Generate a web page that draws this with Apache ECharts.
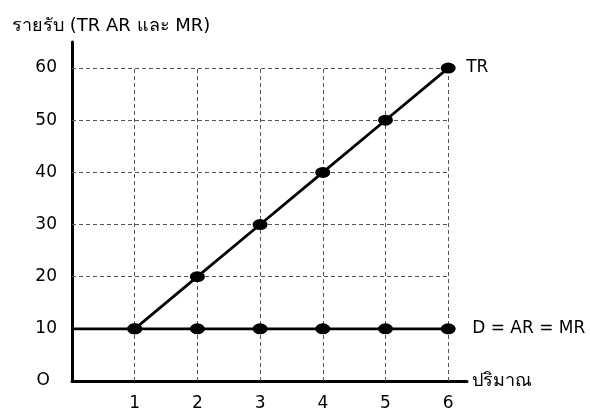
<!DOCTYPE html>
<html>
<head>
<meta charset="utf-8">
<script src="https://cdn.jsdelivr.net/npm/echarts@6/dist/echarts.min.js"></script>
<style>
  html, body { margin: 0; padding: 0; background: #fff; }
  #chart { width: 590px; height: 414px; }
</style>
</head>
<body>
<div id="chart"></div>
<script>
// Quantity sold and the revenue curves of a price-taking firm
const quantities = [1, 2, 3, 4, 5, 6];
const trValues = [10, 20, 30, 40, 50, 60];   // total revenue
const mrValues = [10, 10, 10, 10, 10, 10];   // D = AR = MR (constant price)
const yTicks = [10, 20, 30, 40, 50, 60];

const FONT = 'DejaVu Sans, Noto Sans, sans-serif';
const gridTop = yTicks[yTicks.length - 1];
const gridRight = quantities[quantities.length - 1];

// dashed guide lines: horizontal at each tick, vertical at each quantity
const guideLines = [];
yTicks.forEach(function (v) {
  guideLines.push([{ coord: [0, v] }, { coord: [gridRight, v] }]);
});
quantities.forEach(function (q) {
  guideLines.push([{ coord: [q, 0] }, { coord: [q, gridTop] }]);
});

const trData = quantities.map(function (q, i) { return [q, trValues[i]]; });
const mrData = [{ value: [0, mrValues[0]], symbolSize: 0 }].concat(
  quantities.map(function (q, i) { return [q, mrValues[i]]; })
);

const dotStyle = { color: '#000', borderWidth: 0, opacity: 1 };

const chart = echarts.init(document.getElementById('chart'), null, { renderer: 'canvas' });
chart.setOption({
  animation: false,
  backgroundColor: '#ffffff',
  textStyle: { fontFamily: FONT },
  title: {
    text: 'รายรับ (TR AR และ MR)',
    left: 7,
    top: 12,
    textStyle: { fontFamily: FONT, fontSize: 18, fontWeight: 'normal', color: '#000' }
  },
  grid: { left: 72, right: 123, top: 42, bottom: 33, containLabel: false },
  xAxis: {
    type: 'value',
    min: 0,
    max: 6.3,
    interval: 1,
    name: 'ปริมาณ',
    nameLocation: 'end',
    nameGap: 5,
    nameTextStyle: { fontFamily: FONT, fontSize: 18, color: '#000', verticalAlign: 'middle' },
    axisLine: { show: true, onZero: false, lineStyle: { color: '#000', width: 3 } },
    axisTick: { show: false },
    splitLine: { show: false },
    axisLabel: {
      margin: 14,
      fontFamily: FONT,
      fontSize: 17,
      color: '#000',
      formatter: function (v) {
        return (v > 0 && Number.isInteger(v)) ? String(v) : '';
      }
    }
  },
  yAxis: {
    type: 'value',
    min: 0,
    max: 65,
    interval: 10,
    axisLine: { show: true, onZero: false, lineStyle: { color: '#000', width: 3 } },
    axisTick: { show: false },
    splitLine: { show: false },
    axisLabel: {
      margin: 15,
      fontFamily: FONT,
      fontSize: 17,
      color: '#000',
      formatter: function (v) {
        if (v === 0) return '{o|O}';
        return yTicks.indexOf(v) >= 0 ? String(v) : '';
      },
      rich: { o: { fontFamily: FONT, fontSize: 17, color: '#000', padding: [0, 7, 0, 0] } }
    }
  },
  series: [
    {
      name: 'guides',
      type: 'line',
      data: [],
      silent: true,
      z: 1,
      markLine: {
        silent: true,
        symbol: 'none',
        z: 1,
        label: { show: false },
        emphasis: { disabled: true },
        lineStyle: { color: '#555', width: 1, type: [4, 3] },
        data: guideLines
      }
    },
    {
      name: 'D = AR = MR',
      type: 'line',
      data: mrData,
      symbol: 'circle',
      symbolSize: [15, 11],
      showAllSymbol: true,
      itemStyle: dotStyle,
      lineStyle: { color: '#000', width: 2.8 },
      emphasis: { disabled: true },
      z: 3,
      endLabel: {
        show: true,
        formatter: 'D = AR = MR',
        distance: 24,
        fontFamily: FONT,
        fontSize: 17,
        color: '#000'
      }
    },
    {
      name: 'TR',
      type: 'line',
      data: trData,
      symbol: 'circle',
      symbolSize: [15, 11],
      showAllSymbol: true,
      itemStyle: dotStyle,
      lineStyle: { color: '#000', width: 2.8 },
      emphasis: { disabled: true },
      z: 4,
      endLabel: {
        show: true,
        formatter: 'TR',
        distance: 18,
        fontFamily: FONT,
        fontSize: 17,
        color: '#000'
      }
    }
  ]
});
</script>
</body>
</html>
